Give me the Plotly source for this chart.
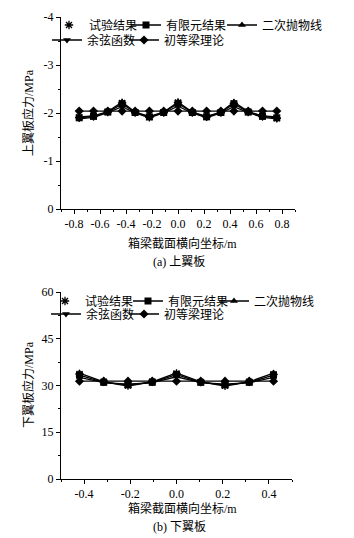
import plotly.graph_objects as go

# ---------------- data ----------------
x_top = [-0.76, -0.65, -0.54, -0.43, -0.33, -0.22, -0.11, 0.0, 0.11, 0.22, 0.33, 0.43, 0.54, 0.65, 0.76]
top_test = [-1.91, -1.93, -2.02, -2.21, -2.01, -1.91, -2.01, -2.22, -2.01, -1.92, -2.01, -2.20, -2.02, -1.93, -1.89]
top_fe = [-1.90, -1.93, -2.02, -2.19, -2.01, -1.92, -2.01, -2.20, -2.01, -1.92, -2.01, -2.19, -2.02, -1.93, -1.90]
top_para = [-1.92, -1.94, -2.03, -2.23, -2.02, -1.93, -2.02, -2.23, -2.02, -1.93, -2.02, -2.23, -2.03, -1.94, -1.92]
top_cos = [-1.88, -1.91, -2.01, -2.13, -2.00, -1.90, -2.00, -2.14, -2.00, -1.90, -2.00, -2.13, -2.01, -1.91, -1.88]
top_beam = [-2.04] * 15

x_bot = [-0.42, -0.315, -0.21, -0.105, 0.0, 0.105, 0.21, 0.315, 0.42]
bot_test = [33.7, 31.2, 30.0, 31.3, 33.9, 31.1, 29.9, 31.2, 33.6]
bot_fe = [33.3, 31.0, 30.2, 31.0, 33.5, 31.0, 30.2, 31.0, 33.3]
bot_para = [34.0, 31.2, 29.8, 31.2, 34.0, 31.2, 29.8, 31.2, 34.0]
bot_cos = [32.6, 30.9, 30.4, 30.9, 32.8, 30.9, 30.4, 30.9, 32.6]
bot_beam = [31.4] * 9

names = ["试验结果", "有限元结果", "二次抛物线", "余弦函数", "初等梁理论"]
symbols = ["asterisk", "square", "triangle-up", "triangle-down", "diamond"]

top_xticks = [-0.8, -0.6, -0.4, -0.2, 0.0, 0.2, 0.4, 0.6, 0.8]
top_xtext = ["-0.8", "-0.6", "-0.4", "-0.2", "0.0", "0.2", "0.4", "0.6", "0.8"]
top_yticks = [0, -1, -2, -3, -4]
top_ytext = ["0", "-1", "-2", "-3", "-4"]
bot_xticks = [-0.4, -0.2, 0.0, 0.2, 0.4]
bot_xtext = ["-0.4", "-0.2", "0.0", "0.2", "0.4"]
bot_yticks = [0, 15, 30, 45, 60]
bot_ytext = ["0", "15", "30", "45", "60"]

# page has an 8px body margin: shrink the figure and shift coordinates
OFF = 8
W, H = 354 - OFF, 538 - OFF
SERIF = "Liberation Serif, Noto Sans CJK SC"
CJK = "Noto Sans CJK SC"


def PX(px):
    return (px - OFF) / W


def PY(py):
    return 1 - (py - OFF) / H


fig = go.Figure()

top_series = [top_test, top_fe, top_para, top_cos, top_beam]
bot_series = [bot_test, bot_fe, bot_para, bot_cos, bot_beam]

# legend placement (symbol-center px, row px) in page pixels
top_leg = [(71, 25), (148, 25), (244, 25), (69, 40), (146, 40)]
bot_leg = [(67, 301), (150, 301), (236, 301), (68, 314), (146, 314)]


def add_series(xs, series, xa, ya, offset):
    for i, (ys, nm, sym) in enumerate(zip(series, names, symbols)):
        lg = "legend" if (offset + i) == 0 else f"legend{offset + i + 1}"
        if i == 0:
            fig.add_trace(go.Scatter(
                x=xs, y=ys, mode="markers", name=nm, xaxis=xa, yaxis=ya, legend=lg,
                marker=dict(symbol=sym, size=7, color="black",
                            line=dict(color="black", width=1.3))))
        else:
            fig.add_trace(go.Scatter(
                x=xs, y=ys, mode="lines+markers", name=nm, xaxis=xa, yaxis=ya, legend=lg,
                line=dict(color="black", width=1.3),
                marker=dict(symbol=sym, size=7, color="black")))


add_series(x_top, top_series, "x", "y", 0)
add_series(x_bot, bot_series, "x2", "y2", 5)

legends = {}
for k, (cx, cy) in enumerate(top_leg + bot_leg):
    key = "legend" if k == 0 else f"legend{k + 1}"
    legends[key] = dict(
        xref="paper", yref="paper",
        x=PX(cx - 22), y=PY(cy), xanchor="left", yanchor="middle",
        bgcolor="rgba(0,0,0,0)", borderwidth=0, itemwidth=30,
        font=dict(family=CJK, size=12, color="black"), orientation="h",
    )

axis_common = dict(showline=True, linecolor="black", linewidth=1, ticks="outside",
                   ticklen=4, tickwidth=1, tickcolor="black", showgrid=False,
                   zeroline=False, mirror=False, automargin=False,
                   tickfont=dict(family="Liberation Serif", size=12, color="black"))

fig.update_layout(
    width=W, height=H,
    margin=dict(l=0, r=0, t=0, b=0, autoexpand=False),
    paper_bgcolor="white", plot_bgcolor="white",
    showlegend=True,
    xaxis=dict(domain=[PX(61), PX(295)], anchor="y", range=[-0.9, 0.9],
               tickmode="array", tickvals=top_xticks, ticktext=top_xtext,
               minor=dict(tickvals=[-0.9, -0.7, -0.5, -0.3, -0.1, 0.1, 0.3, 0.5, 0.7, 0.9],
                          ticklen=2, ticks="outside", tickcolor="black"),
               **axis_common),
    yaxis=dict(domain=[PY(209), PY(17)], anchor="x", range=[0, -4],
               tickmode="array", tickvals=top_yticks, ticktext=top_ytext,
               minor=dict(tickvals=[-0.5, -1.5, -2.5, -3.5], ticklen=2, ticks="outside",
                          tickcolor="black"),
               **axis_common),
    xaxis2=dict(domain=[PX(61), PX(292)], anchor="y2", range=[-0.5, 0.5],
                tickmode="array", tickvals=bot_xticks, ticktext=bot_xtext,
                minor=dict(tickvals=[-0.5, -0.3, -0.1, 0.1, 0.3, 0.5], ticklen=2,
                           ticks="outside", tickcolor="black"),
                **axis_common),
    yaxis2=dict(domain=[PY(479), PY(292)], anchor="x2", range=[0, 60],
                tickmode="array", tickvals=bot_yticks, ticktext=bot_ytext,
                minor=dict(tickvals=[7.5, 22.5, 37.5, 52.5], ticklen=2, ticks="outside",
                           tickcolor="black"),
                **axis_common),
    **legends,
)


def ann(text, px, py, angle=0, size=12):
    fig.add_annotation(text=text, xref="paper", yref="paper", x=PX(px), y=PY(py),
                       xanchor="center", yanchor="middle", showarrow=False, textangle=angle,
                       font=dict(family=SERIF, size=size, color="black"))


ann("上翼板应力/MPa", 28, 113, angle=-90)
ann("箱梁截面横向坐标/m", 182, 243)
ann("(a) 上翼板", 179, 262)
ann("下翼板应力/MPa", 28, 385, angle=-90)
ann("箱梁截面横向坐标/m", 182, 508)
ann("(b) 下翼板", 179, 527)

fig.write_html("out.html")
